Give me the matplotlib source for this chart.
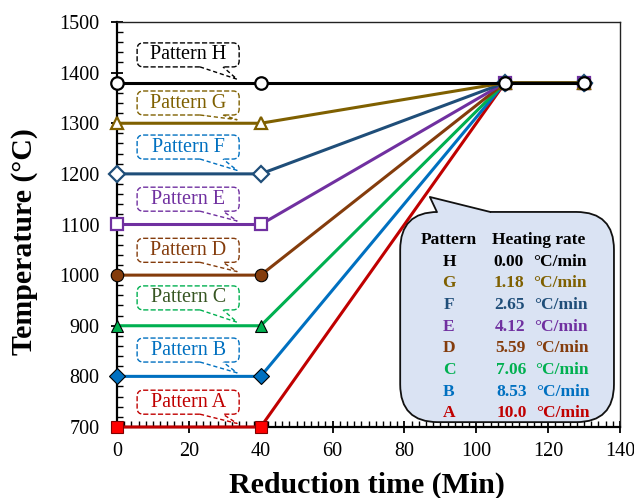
import matplotlib
matplotlib.use("Agg")
from matplotlib import pyplot as plt
from matplotlib.patches import FancyBboxPatch, Polygon
from matplotlib.ticker import MultipleLocator

plt.rcParams['font.family'] = ['Liberation Serif', 'DejaVu Serif']

# reduction schedule: hold at start temp for 40 min, ramp to 1380 °C, hold
patterns = ['A', 'B', 'C', 'D', 'E', 'F', 'G', 'H']
start_temp = [700, 800, 900, 1000, 1100, 1200, 1300, 1380]
heating_rate = [10.0, 8.53, 7.06, 5.59, 4.12, 2.65, 1.18, 0.00]
hold_end = 40
ramp_end = 108
run_end = 130
final_temp = 1380

line_colors = ['#C00000', '#0070C0', '#00B050', '#843C0C', '#7030A0', '#1F4E79', '#7F6000', 'black']
face_colors = ['#FF0000', '#0070C0', '#00B050', '#843C0C', 'white', 'white', 'white', 'white']
edge_colors = ['#7F0000', 'black', 'black', 'black', '#7030A0', '#1F4E79', '#7F6000', 'black']
markers = ['s', 'D', '^', 'o', 's', 'D', '^', 'o']
label_text_colors = ['#C00000', '#0070C0', '#375623', '#843C0C', '#7030A0', '#0070C0', '#7F6000', 'black']
label_box_colors = ['#C00000', '#0070C0', '#00B050', '#843C0C', '#7030A0', '#0070C0', '#7F6000', 'black']
table_colors = ['#C00000', '#0070C0', '#00B050', '#843C0C', '#7030A0', '#1F4E79', '#7F6000', 'black']
label_offsets = [49, 52, 55, 49, 50, 53, 40, 55]

fig = plt.figure(figsize=(6.34, 4.98), dpi=100)
ax = fig.add_axes([117 / 634, 71 / 498, 503 / 634, 405 / 498])
ax.set_xlim(0, 140)
ax.set_ylim(700, 1500)

times = [0, hold_end, ramp_end, run_end]
for i, p in enumerate(patterns):
    temps = [start_temp[i], start_temp[i], final_temp, final_temp]
    open_marker = face_colors[i] == 'white'
    ax.plot(times, temps, color=line_colors[i], lw=2.2, marker=markers[i],
            ms=9 if markers[i] != 'D' else 8, mfc=face_colors[i], mec=edge_colors[i],
            mew=1.6 if open_marker else 0.8, clip_on=False, zorder=3 + i * 0.1)

# dashed callout labels: rounded box plus a tail pointing at the hold segment
box_w, box_h = 28.4, 47.4
aspect = (503 / 140) / (405 / 800)
for i, p in enumerate(patterns):
    cx, cy = 19.8, start_temp[i] + label_offsets[i]
    c = label_box_colors[i]
    box = FancyBboxPatch((cx - box_w / 2, cy - box_h / 2), box_w, box_h,
                         boxstyle='round,pad=0,rounding_size=1.7', mutation_aspect=aspect,
                         fc='white', ec=c, ls='--', lw=1, zorder=6)
    ax.add_patch(box)
    bottom = cy - box_h / 2
    tip = (33.4, start_temp[i] + 7)
    ax.add_patch(Polygon([(23.1, bottom + 3), (23.1, bottom), tip, (29.5, bottom), (29.5, bottom + 3)],
                         closed=True, fc='white', ec='none', zorder=6.1))
    ax.plot([23.1, tip[0], 29.5], [bottom, tip[1], bottom], color=c, ls='--', lw=1,
            dashes=(3, 2), zorder=6.2)
    ax.text(cx, cy, f'Pattern {p}', ha='center', va='center', fontsize=14.5,
            color=label_text_colors[i], zorder=6.3)

ax.xaxis.set_major_locator(MultipleLocator(20))
ax.xaxis.set_minor_locator(MultipleLocator(2))
ax.yaxis.set_major_locator(MultipleLocator(100))
ax.yaxis.set_minor_locator(MultipleLocator(20))
ax.tick_params(which='major', direction='inout', length=9, width=1.3, labelsize=14.5)
ax.tick_params(which='minor', direction='in', length=4, width=1)
ax.tick_params(axis='x', pad=6)
ax.tick_params(axis='y', pad=8)
for s in ['left', 'bottom']:
    ax.spines[s].set_linewidth(1.6)
for s in ['top', 'right']:
    ax.spines[s].set_linewidth(1.0)
    ax.spines[s].set_color('#222222')

ax.set_xlabel('Reduction time (Min)', fontsize=21.5, fontweight='bold', va='center')
ax.set_ylabel('Temperature (°C)', fontsize=21.5, fontweight='bold', va='center')
ax.xaxis.set_label_coords(0.497, -0.143)
ax.yaxis.set_label_coords(-0.183, 0.457)

# callout with the heating rates
bx0, by0, bx1, by1 = 0.563, 0.012, 0.988, 0.531
bubble = FancyBboxPatch((bx0, by0), bx1 - bx0, by1 - by0,
                        boxstyle='round,pad=0,rounding_size=0.075',
                        mutation_aspect=503 / 405, transform=ax.transAxes,
                        fc='#DAE3F3', ec='#111111', lw=1.3, zorder=7, clip_on=False)
ax.add_patch(bubble)
tip = (0.622, 0.568)
base_l, base_r = 0.636, 0.742
ax.add_patch(Polygon([(base_l, by1 - 0.006), (base_l, by1), tip, (base_r, by1), (base_r, by1 - 0.006)],
                     closed=True, transform=ax.transAxes, fc='#DAE3F3', ec='none', zorder=7.5))
ax.plot([base_l, tip[0], base_r], [by1, tip[1], by1], color='#111111', lw=1.3,
        transform=ax.transAxes, zorder=7.6, clip_on=False)

row_y = 0.462
ax.text(0.660, row_y, 'Pattern', transform=ax.transAxes, ha='center', va='center',
        fontsize=12.5, fontweight='bold', zorder=8)
ax.text(0.745, row_y, 'Heating rate', transform=ax.transAxes, ha='left', va='center',
        fontsize=12.5, fontweight='bold', zorder=8)
for k, i in enumerate(range(len(patterns) - 1, -1, -1)):
    y = row_y - 0.0535 * (k + 1)
    ax.text(0.660, y, patterns[i], transform=ax.transAxes, ha='center', va='center',
            fontsize=12.5, fontweight='bold', color=table_colors[i], zorder=8)
    ax.text(0.748 + 0.001 * k, y, format(heating_rate[i], '#.3g'), transform=ax.transAxes,
            ha='left', va='center', fontsize=12.5, fontweight='bold', color=table_colors[i], zorder=8)
    ax.text(0.827 + 0.001 * k, y, '°C/min', transform=ax.transAxes, ha='left', va='center',
            fontsize=12.5, fontweight='bold', color=table_colors[i], zorder=8)

fig.savefig('out.png', dpi=100)
